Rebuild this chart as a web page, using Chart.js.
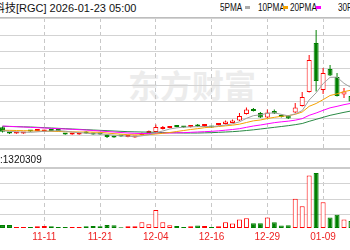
<!DOCTYPE html>
<html>
<head>
<meta charset="utf-8">
<title>RGC</title>
<script src="https://cdn.jsdelivr.net/npm/chart.js@4/dist/chart.umd.min.js"></script>
<style>
  html, body { margin: 0; padding: 0; background: #fff; }
  #wrap { position: relative; width: 350px; height: 250px; overflow: hidden;
          font-family: "Liberation Sans", "Noto Sans CJK SC", sans-serif; }
  #wrap > * { position: absolute; white-space: nowrap; }
  #mark { left: 128px; top: 68px; font: bold 32px/32px "Noto Sans CJK SC"; color: #ececec; }
  #title { left: -6px; top: 2px; font-size: 11px; line-height: 12px; color: #111; }
  .ma { top: 2px; font-size: 10px; line-height: 12px; color: #111; transform: scaleX(0.82); transform-origin: 0 0; }
  .bar { top: 6px; width: 5px; height: 3px; }
  #topLine { left: 0; top: 17px; width: 350px; height: 1px; background: #bdbdbd; }
  #volLine { left: 0; top: 148px; width: 350px; height: 2px; background: #cbcbcb; }
  #volText { left: 0; top: 154px; font-size: 10px; line-height: 12px; color: #111; }
</style>
</head>
<body>
<div id="wrap">
  <div id="mark">东方财富</div>
  <canvas id="priceChart" width="350" height="131" style="left:0;top:18px"></canvas>
  <canvas id="volChart" width="350" height="101" style="left:0;top:149px"></canvas>
  <div id="topLine"></div>
  <div id="volLine"></div>
  <div id="title">科技[RGC] 2026-01-23 05:00</div>
  <div class="ma" style="left:220px">5PMA</div>
  <div class="bar" style="left:245px;background:#aaa"></div>
  <div class="ma" style="left:258px">10PMA</div>
  <div class="bar" style="left:283px;background:#f5a200"></div>
  <div class="ma" style="left:290px">20PMA</div>
  <div class="bar" style="left:316px;background:#ff00ff"></div>
  <div class="ma" style="left:338px">30PMA</div>
  <div id="volText">:1320309</div>
</div>
<script>
// daily candles, index 0 = 11-03 ... index 50 = 01-15
const opens = [7.31, 5.66, 5.42, 5.45, 6.35, 6.2, 6.05, 6.65, 6.5, 5.45,
    5.15, 5.15, 6.05, 5.6, 5.36, 5.0, 4.7, 4.85, 4.4, 4.25,
    5.0, 5.6, 5.9, 6.8, 7.1, 7.85, 7.55, 7.4, 8.0, 7.7,
    7.55, 8.0, 8.3, 8.6, 9.35, 11.3, 12.8, 11.6, 10.25, 12.2,
    10.85, 10.85, 11.75, 13.7, 17.9, 32.6, 18.5, 24.8, 22.4, 17.15, 16.7];
const closes = [5.99, 5.42, 5.66, 5.66, 6.05, 6.65, 6.5, 6.2, 6.2, 5.15,
    5.45, 5.45, 5.45, 5.15, 5.15, 4.4, 4.25, 4.55, 4.7, 4.55,
    5.6, 6.2, 7.4, 7.25, 7.55, 7.4, 7.25, 7.7, 7.55, 7.85,
    7.25, 8.3, 9.05, 9.35, 10.7, 12.65, 12.2, 10.25, 11.75, 11.45,
    10.4, 9.95, 13.25, 16.4, 27.5, 21.2, 23.6, 22.85, 16.7, 18.05, 15.05];
const highs = [7.55, 5.9, 5.8, 5.85, 6.5, 6.8, 6.6, 6.75, 6.6, 5.6,
    5.55, 5.6, 6.15, 5.7, 5.45, 5.1, 4.8, 4.95, 4.8, 4.65,
    5.75, 6.35, 8.15, 7.7, 7.7, 8.0, 7.7, 7.9, 8.3, 8.15,
    7.7, 8.45, 9.35, 9.65, 11.6, 13.25, 13.1, 11.9, 12.65, 12.65,
    11.15, 11.0, 14.6, 17.9, 29.0, 36.5, 25.1, 26.0, 23.6, 19.1, 17.0];
const lows = [5.75, 5.3, 5.35, 5.4, 5.95, 6.1, 6.0, 6.1, 6.1, 5.05,
    5.1, 5.05, 5.4, 5.05, 5.05, 4.1, 4.15, 4.45, 4.3, 4.15,
    4.9, 5.5, 5.6, 6.65, 7.0, 7.3, 7.15, 7.25, 7.45, 7.4,
    7.15, 7.85, 8.15, 8.5, 9.2, 11.15, 12.05, 10.1, 10.1, 11.3,
    10.25, 9.8, 11.6, 13.55, 17.75, 18.05, 17.3, 22.7, 16.55, 16.1, 14.6];
const volumes = [550000, 550000, 180000, 200000, 200000, 350000, 360000, 330000, 200000, 190000,
    180000, 200000, 330000, 360000, 340000, 550000, 520000, 160000, 350000, 320000,
    1100000, 720000, 3450000, 1080000, 520000, 360000, 200000, 340000, 500000, 360000,
    200000, 340000, 1100000, 880000, 1620000, 1850000, 900000, 900000, 2020000, 1080000,
    500000, 520000, 5600000, 4150000, 10000000, 10500000, 4900000, 2000000, 2550000, 1620000, 1320309];

// moving averages as drawn
const ma5 = [6.3, 6.1, 5.95, 5.85, 5.8, 5.95, 6.1, 6.2, 6.3, 6.15,
    5.9, 5.7, 5.55, 5.35, 5.35, 5.15, 4.95, 4.75, 4.65, 4.5,
    4.75, 5.1, 5.7, 6.2, 6.8, 7.15, 7.35, 7.45, 7.5, 7.55,
    7.5, 7.75, 8.0, 8.35, 8.95, 10.0, 10.8, 11.05, 11.5, 11.65,
    11.2, 10.75, 11.35, 12.3, 15.5, 17.65, 20.4, 22.3, 22.35, 20.5, 19.25];
const ma10 = [6.4, 6.4, 6.35, 6.3, 6.25, 6.2, 6.15, 6.1, 6.05, 6.0,
    5.95, 5.9, 5.9, 5.85, 5.8, 5.6, 5.4, 5.25, 5.1, 5.05,
    5.05, 5.1, 5.3, 5.5, 5.75, 6.05, 6.35, 6.65, 6.9, 7.2,
    7.35, 7.55, 7.75, 7.95, 8.25, 8.75, 9.25, 9.5, 9.95, 10.3,
    10.6, 10.8, 11.2, 11.9, 13.6, 14.45, 15.6, 16.85, 17.35, 18.0, 18.45];
const ma20 = [7.7, 7.6, 7.5, 7.4, 7.3, 7.2, 7.1, 7.0, 6.9, 6.8,
    6.7, 6.6, 6.5, 6.35, 6.2, 6.05, 5.9, 5.75, 5.6, 5.5,
    5.45, 5.45, 5.5, 5.55, 5.6, 5.65, 5.7, 5.8, 5.9, 6.0,
    6.1, 6.25, 6.45, 6.65, 6.9, 7.3, 7.7, 8.0, 8.35, 8.7,
    8.95, 9.15, 9.45, 9.9, 10.9, 11.6, 12.4, 13.15, 13.6, 14.1, 14.5];
const ma30 = [7.6, 7.55, 7.5, 7.45, 7.4, 7.3, 7.2, 7.1, 7.0, 6.9,
    6.8, 6.7, 6.6, 6.5, 6.4, 6.3, 6.2, 6.1, 6.0, 5.95,
    5.9, 5.85, 5.8, 5.75, 5.7, 5.65, 5.6, 5.6, 5.6, 5.65,
    5.7, 5.8, 5.9, 6.0, 6.15, 6.35, 6.55, 6.8, 7.05, 7.3,
    7.55, 7.8, 8.1, 8.45, 9.1, 9.7, 10.3, 10.9, 11.35, 11.8, 12.2];

// x axis labels sit every 8 sessions
const tickIdx = [6, 14, 22, 30, 38, 46];
const tickLabels = ["11-11", "11-21", "12-04", "12-16", "12-29", "01-09"];
const priceGrid = [5, 10, 15, 20, 25, 30, 35, 40];
const volGrid = [2500000, 5500000, 8500000, 11454545];

const RED = "#ff0000";
const GREEN = "#008000";
const isUp = (i) => closes[i] >= opens[i];
const xy = (arr) => arr.map((v, i) => ({ x: i, y: v }));

function xAxis(showLabels) {
    return {
        type: "linear",
        bounds: "data",
        offset: false,
        min: -0.36,
        max: 49.86,
        afterBuildTicks: (scale) => {
            scale.ticks = tickIdx.map((v) => ({ value: v }));
        },
        grid: { color: "#c8c8c8", lineWidth: 1, drawTicks: false, offset: false },
        border: { display: false, dash: [4, 3] },
        ticks: {
            display: showLabels,
            autoSkip: false,
            maxRotation: 0,
            minRotation: 0,
            padding: 3,
            color: "#ee2222",
            font: { family: "Liberation Sans", size: 10 },
            callback: (v) => {
                const k = tickIdx.indexOf(v);
                return k >= 0 ? tickLabels[k] : "";
            },
        },
    };
}

const common = {
    responsive: false,
    devicePixelRatio: 1,
    animation: false,
    events: [],
    plugins: { legend: { display: false }, tooltip: { enabled: false } },
};

const maLine = (data, color) => ({
    type: "line",
    data: xy(data),
    borderColor: color,
    borderWidth: 1,
    pointRadius: 0,
    tension: 0,
    order: 0,
});

new Chart(document.getElementById("priceChart"), {
    type: "bar",
    data: {
        datasets: [
            maLine(ma5, "#a0a0a0"),
            maLine(ma10, "#f5a200"),
            maLine(ma20, "#ff00ff"),
            maLine(ma30, "#2a8a45"),
            {
                // candle bodies
                data: opens.map((o, i) => ({ x: i, y: [o, closes[i]] })),
                grouped: false,
                maxBarThickness: 5,
                minBarLength: 2,
                backgroundColor: opens.map((_, i) => (isUp(i) ? "#ffffff" : GREEN)),
                borderColor: opens.map((_, i) => (isUp(i) ? RED : GREEN)),
                borderWidth: 1,
                borderSkipped: false,
                inflateAmount: 0,
                order: 1,
            },
            {
                // wicks
                data: lows.map((l, i) => ({ x: i, y: [l, highs[i]] })),
                grouped: false,
                maxBarThickness: 1,
                backgroundColor: opens.map((_, i) => (isUp(i) ? RED : GREEN)),
                borderWidth: 0,
                inflateAmount: 0,
                order: 2,
            },
        ],
    },
    options: Object.assign({}, common, {
        layout: { padding: 0, autoPadding: false },
        scales: {
            x: xAxis(false),
            y: {
                min: 0.8,
                max: 40.1,
                afterBuildTicks: (scale) => {
                    scale.ticks = priceGrid.map((v) => ({ value: v }));
                },
                grid: { color: "#d3d3d3", lineWidth: 1, drawTicks: false },
                border: { display: false },
                ticks: { display: false },
            },
        },
    }),
});

new Chart(document.getElementById("volChart"), {
    type: "bar",
    data: {
        datasets: [
            {
                data: xy(volumes),
                barThickness: 5,
                backgroundColor: volumes.map((_, i) => (isUp(i) ? "#ffffff" : GREEN)),
                borderColor: volumes.map((_, i) => (isUp(i) ? RED : GREEN)),
                borderWidth: 1,
                borderSkipped: false,
                inflateAmount: 0,
            },
        ],
    },
    options: Object.assign({}, common, {
        layout: { padding: { top: 19, bottom: 4, left: 0, right: 0 }, autoPadding: false },
        scales: {
            x: xAxis(true),
            y: {
                min: 0,
                max: 11454545,
                afterBuildTicks: (scale) => {
                    scale.ticks = volGrid.map((v) => ({ value: v }));
                },
                grid: {
                    color: (ctx) => (ctx.tick && ctx.tick.value === 11454545 ? "#cbcbcb" : "#d3d3d3"),
                    lineWidth: (ctx) => (ctx.tick && ctx.tick.value === 11454545 ? 2 : 1),
                    drawTicks: false,
                },
                border: { display: false },
                ticks: { display: false },
            },
        },
    }),
});
</script>
</body>
</html>
